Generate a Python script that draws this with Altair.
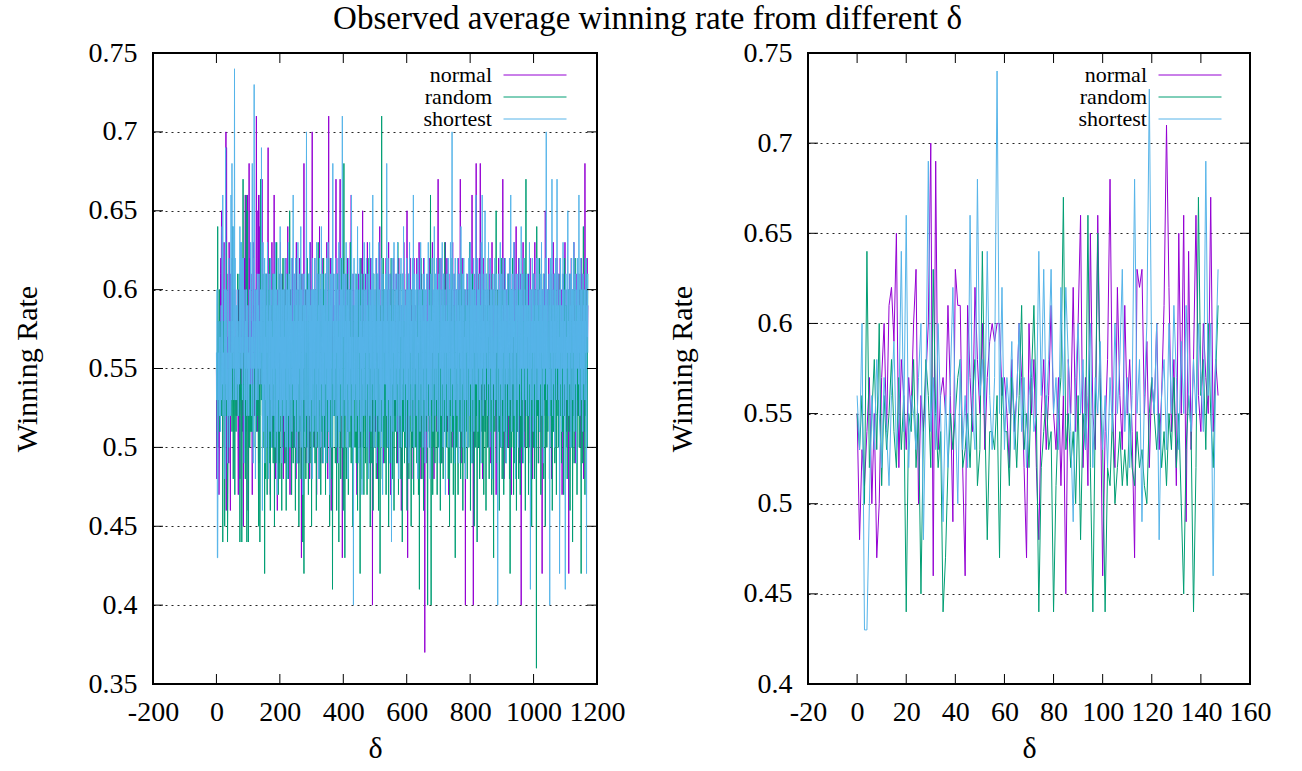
import altair as alt
import pandas as pd

# ---------------- data (winning rate in %, index = delta) ----------------
series_names = ["normal", "random", "shortest"]
series_colors = ["#9400d3", "#009e73", "#56b4e9"]

normal_head = [
    55, 48, 53, 51, 54, 57, 50, 55, 47, 50, 57, 60, 54, 61, 62, 59, 65, 52, 58, 56,
    53, 57, 55, 60, 63, 50, 56, 54, 57, 60, 70, 46, 69, 53, 56, 57, 55, 61, 56, 49,
    63, 61, 61, 52, 46, 61, 57, 54, 62, 58, 55, 60, 53, 57, 59, 60, 59, 60, 60, 56,
    57, 55, 52, 58, 54, 56, 60, 57, 52, 47, 60, 55, 58, 52, 48, 55, 58, 53, 56, 61,
    55, 53, 57, 51, 56, 45, 58, 55, 62, 54, 60, 66, 52, 57, 51, 65, 55, 53, 66, 57,
    46, 54, 58, 68, 55, 52, 62, 56, 53, 61, 55, 58, 54, 47, 63, 62, 63, 55, 59, 52,
    57, 55, 60, 53, 56, 61, 71, 62, 54, 58, 51, 65, 55, 66, 49, 64, 53, 58, 66, 56,
    54, 60, 57, 55, 67, 54, 58, 56,
]
random_head = [
    55, 53, 56, 50, 64, 52, 55, 58, 53, 60, 51, 56, 53, 55, 58, 54, 52, 57, 53, 56,
    44, 55, 54, 58, 52, 55, 45, 54, 58, 56, 52, 63, 55, 52, 54, 44, 47, 52, 55, 53,
    55, 57, 58, 52, 53, 55, 52, 56, 58, 51, 53, 64, 55, 48, 54, 54, 53, 56, 47, 57,
    54, 54, 51, 57, 55, 52, 56, 61, 53, 55, 52, 57, 61, 55, 44, 52, 54, 56, 53, 54,
    44, 51, 55, 57, 67, 53, 55, 52, 54, 50, 56, 48, 55, 53, 66, 52, 44, 55, 65, 56,
    53, 44, 52, 51, 55, 50, 52, 54, 51, 53, 51, 55, 52, 51, 54, 52, 53, 51, 50, 55,
    57, 55, 53, 55, 52, 54, 51, 55, 53, 57, 52, 55, 50, 45, 53, 56, 54, 44, 52, 67,
    56, 58, 53, 60, 55, 52, 57, 61,
]
shortest_head = [
    56, 53, 60, 43, 43, 50, 56, 53, 58, 55, 52, 57, 54, 51, 56, 59, 53, 55, 64, 54,
    66, 52, 56, 55, 53, 57, 60, 48, 56, 69, 54, 57, 53, 60, 55, 49, 56, 52, 57, 62,
    55, 50, 58, 53, 56, 52, 66, 55, 53, 68, 56, 58, 55, 64, 56, 53, 57, 74, 55, 62,
    53, 57, 55, 59, 53, 56, 60, 54, 57, 52, 56, 58, 54, 55, 64, 56, 63, 55, 58, 63,
    55, 57, 53, 62, 56, 62, 58, 54, 49, 57, 60, 55, 58, 53, 56, 60, 52, 57, 55, 59,
    53, 56, 52, 57, 54, 60, 55, 58, 63, 54, 57, 52, 56, 68, 55, 58, 49, 56, 60, 73,
    57, 55, 60, 48, 56, 58, 53, 60, 55, 61, 57, 53, 59, 55, 61, 56, 54, 58, 55, 60,
    57, 54, 69, 56, 60, 46, 58, 63,
]

normal_tail = [
    55, 58, 52, 57, 60, 54, 49, 56, 61, 53, 57, 50, 59, 55, 62, 69, 52, 56, 58, 51, 55, 60, 47, 57, 54, 59, 52, 63, 56, 50, 58, 55,
    53, 57, 66, 51, 55, 59, 48, 56, 62, 54, 58, 52, 46, 57, 60, 55, 53, 61, 49, 56, 58, 54, 63, 52, 57, 50, 59, 55, 61, 53, 56, 48,
    57, 52, 60, 55, 49, 58, 54, 62, 51, 56, 59, 53, 57, 64, 50, 55, 58, 52, 61, 54, 47, 57, 60, 53, 56, 51, 59, 55, 62, 50, 54, 58,
    55, 61, 50, 56, 59, 52, 57, 48, 63, 54, 58, 51, 56, 60, 53, 57, 49, 55, 62, 52, 58, 54, 60, 56, 43, 57, 61, 53, 55, 59, 50, 56,
    68, 53, 57, 51, 60, 55, 49, 58, 54, 62, 50, 56, 59, 53, 57, 61, 52, 55, 48, 58, 63, 54, 57, 51, 56, 59, 70, 53, 56, 60, 52, 55,
    57, 50, 62, 54, 58, 52, 56, 60, 47, 55, 59, 53, 61, 56, 51, 57, 54, 64, 52, 58, 55, 49, 60, 56, 53, 59, 51, 57, 62, 54, 56, 50,
    54, 59, 52, 56, 61, 50, 57, 55, 63, 53, 58, 48, 56, 60, 71, 52, 57, 54, 59, 51, 62, 55, 46, 58, 53, 60, 56, 52, 57, 61, 54, 58,
    56, 52, 59, 54, 58, 67, 51, 55, 60, 53, 57, 49, 62, 55, 58, 52, 56, 61, 67, 54, 50, 57, 59, 53, 56, 43, 58, 62, 55, 51, 57, 60,
    55, 59, 52, 57, 61, 54, 48, 58, 56, 62, 51, 55, 59, 53, 57, 60, 52, 56, 63, 54, 58, 66, 50, 56, 53, 59, 55, 61, 52, 57, 54, 58,
    53, 57, 60, 51, 56, 59, 54, 47, 58, 62, 55, 52, 57, 61, 53, 59, 56, 50, 58, 54, 62, 56, 52, 57, 55, 65, 53, 58, 51, 60, 56, 54,
    58, 52, 56, 61, 54, 59, 50, 57, 63, 55, 52, 58, 60, 53, 56, 49, 59, 55, 62, 51, 57, 54, 60, 56, 40, 58, 53, 61, 55, 50, 57, 59,
    54, 60, 51, 57, 55, 62, 53, 58, 48, 56, 61, 54, 59, 52, 57, 64, 55, 50, 58, 53, 60, 56, 52, 59, 54, 57, 61, 49, 56, 58, 53, 60,
    56, 53, 59, 62, 50, 57, 54, 60, 55, 51, 58, 63, 53, 56, 59, 52, 57, 47, 61, 55, 58, 53, 56, 60, 51, 57, 54, 62, 52, 58, 55, 59,
    52, 58, 55, 61, 53, 57, 60, 49, 56, 59, 54, 62, 57, 51, 58, 55, 60, 53, 56, 46, 59, 57, 52, 61, 55, 58, 53, 63, 56, 50, 57, 54,
    58, 54, 60, 52, 57, 65, 55, 43, 59, 53, 61, 56, 50, 58, 54, 62, 57, 52, 59, 55, 48, 60, 56, 53, 58, 51, 57, 62, 54, 59, 52, 56,
    55, 59, 53, 57, 62, 50, 56, 60, 54, 58, 51, 63, 55, 57, 52, 59, 56, 48, 61, 54, 58, 53, 57, 60, 51, 56, 62, 55, 59, 37, 57, 53,
    57, 52, 60, 55, 49, 58, 54, 61, 56, 53, 59, 51, 57, 62, 55, 50, 58, 54, 60, 53, 56, 63, 52, 57, 59, 54, 48, 58, 61, 55, 52, 57,
    54, 59, 56, 51, 58, 53, 60, 67, 55, 52, 57, 61, 50, 56, 59, 54, 62, 53, 57, 49, 58, 55, 60, 52, 56, 61, 54, 58, 51, 57, 63, 55,
    58, 53, 56, 62, 51, 57, 55, 60, 47, 59, 54, 57, 52, 61, 56, 53, 58, 60, 55, 50, 57, 63, 54, 59, 52, 56, 61, 55, 58, 53, 57, 54,
    56, 60, 52, 57, 54, 59, 62, 50, 55, 58, 53, 61, 56, 67, 52, 57, 55, 60, 49, 58, 54, 62, 56, 51, 59, 55, 57, 53, 60, 40, 58, 54,
    53, 58, 61, 55, 50, 57, 60, 54, 59, 52, 56, 63, 55, 58, 51, 57, 60, 53, 66, 56, 52, 59, 40, 57, 61, 54, 58, 50, 56, 60, 55, 68,
    57, 52, 59, 55, 61, 53, 56, 50, 58, 62, 54, 57, 68, 51, 56, 59, 53, 60, 55, 48, 58, 62, 54, 57, 52, 60, 55, 59, 51, 57, 54, 61,
    55, 59, 53, 57, 50, 60, 56, 62, 52, 58, 54, 61, 57, 49, 55, 59, 53, 63, 56, 51, 58, 55, 60, 53, 57, 61, 52, 56, 59, 54, 47, 58,
    60, 54, 57, 52, 59, 55, 62, 51, 56, 58, 53, 61, 57, 50, 55, 60, 54, 58, 52, 67, 56, 53, 59, 48, 57, 62, 55, 51, 58, 54, 60, 56,
    53, 58, 55, 61, 50, 57, 59, 54, 62, 56, 52, 58, 55, 60, 47, 57, 53, 61, 56, 59, 51, 55, 58, 63, 54, 57, 52, 60, 56, 64, 53, 58,
    56, 51, 60, 54, 58, 62, 53, 57, 49, 59, 55, 61, 52, 40, 57, 55, 60, 53, 58, 63, 51, 56, 59, 54, 57, 50, 61, 55, 58, 53, 56, 60,
    54, 58, 52, 57, 61, 55, 50, 59, 53, 62, 56, 58, 51, 57, 54, 60, 55, 48, 59, 53, 61, 56, 52, 58, 63, 55, 57, 50, 60, 54, 56, 59,
    57, 53, 60, 55, 49, 58, 62, 54, 56, 51, 59, 57, 53, 61, 55, 42, 58, 60, 54, 57, 52, 59, 56, 61, 53, 65, 57, 50, 58, 55, 60, 53,
    55, 60, 52, 57, 62, 54, 58, 50, 56, 59, 53, 61, 57, 48, 55, 60, 52, 58, 63, 54, 57, 51, 59, 56, 53, 61, 55, 58, 50, 57, 62, 54,
    58, 53, 56, 61, 55, 50, 59, 54, 62, 57, 52, 58, 55, 60, 47, 56, 59, 53, 61, 55, 58, 52, 57, 63, 54, 56, 60, 51, 58, 55, 53, 59,
    56, 60, 54, 42, 58, 53, 61, 56, 51, 59, 55, 62, 53, 57, 50, 58, 60, 54, 56, 63, 52, 57, 55, 59, 49, 58, 61, 54, 57, 52, 60, 55,
    53, 58, 61, 55, 57, 52, 60, 54, 59, 50, 56, 62, 55, 58, 53, 57, 61, 54, 48, 59, 56, 52, 68, 57, 54, 60, 55, 51, 58, 62, 56, 59,
]
random_tail = [
    53, 57, 50, 56, 42, 55, 59, 48, 54, 61, 52, 56, 47, 58, 53, 60, 51, 55, 49, 57, 62, 53, 46, 56, 59, 52, 55, 50, 58, 54, 61, 49,
    56, 51, 58, 45, 54, 60, 52, 57, 49, 55, 63, 50, 56, 53, 59, 47, 55, 61, 52, 54, 48, 57, 53, 60, 51, 56, 46, 58, 54, 50, 62, 55,
    52, 58, 54, 49, 60, 55, 51, 57, 46, 56, 53, 61, 50, 55, 58, 48, 54, 59, 52, 65, 55, 50, 57, 53, 60, 47, 56, 52, 58, 54, 49, 57,
    55, 50, 59, 53, 57, 46, 62, 54, 51, 56, 58, 49, 55, 60, 52, 57, 45, 54, 59, 51, 56, 53, 61, 48, 55, 58, 52, 56, 44, 59, 54, 50,
    42, 56, 53, 60, 51, 55, 48, 58, 54, 50, 57, 62, 52, 55, 47, 59, 53, 56, 61, 49, 54, 58, 51, 57, 45, 55, 60, 52, 56, 50, 58, 53,
    57, 51, 55, 49, 60, 54, 58, 46, 56, 52, 59, 55, 50, 63, 53, 57, 48, 55, 61, 52, 56, 47, 58, 54, 51, 60, 55, 49, 57, 53, 62, 54,
    50, 56, 53, 59, 47, 55, 61, 52, 57, 54, 49, 58, 53, 56, 62, 51, 55, 45, 59, 54, 50, 57, 53, 60, 48, 56, 41, 55, 58, 52, 57, 54,
    58, 52, 55, 49, 60, 54, 57, 46, 56, 53, 61, 50, 55, 58, 44, 57, 53, 59, 51, 56, 48, 55, 62, 53, 57, 50, 58, 54, 46, 56, 68, 53,
    55, 43, 57, 52, 59, 54, 48, 56, 61, 51, 55, 58, 47, 54, 60, 52, 57, 50, 56, 63, 53, 49, 58, 55, 51, 57, 45, 59, 53, 56, 50, 58,
    53, 57, 50, 55, 61, 49, 56, 52, 58, 46, 55, 60, 53, 57, 51, 59, 54, 42, 56, 62, 52, 55, 48, 58, 53, 57, 50, 61, 54, 47, 56, 52,
    58, 54, 49, 56, 52, 60, 55, 47, 57, 53, 59, 50, 56, 62, 51, 55, 58, 45, 54, 57, 52, 60, 49, 56, 53, 58, 46, 55, 61, 52, 57, 50,
    54, 59, 52, 56, 48, 57, 61, 53, 55, 50, 58, 46, 56, 60, 52, 55, 42, 57, 53, 59, 51, 71, 54, 48, 57, 55, 62, 50, 56, 53, 59, 49,
    56, 52, 58, 47, 55, 61, 53, 57, 50, 54, 59, 45, 56, 52, 60, 55, 49, 57, 53, 62, 51, 56, 58, 48, 54, 57, 52, 60, 46, 55, 59, 53,
    51, 57, 54, 60, 49, 55, 58, 52, 63, 56, 47, 54, 59, 53, 57, 50, 55, 61, 48, 56, 52, 58, 44, 57, 54, 60, 51, 55, 58, 49, 56, 53,
    57, 50, 55, 61, 53, 46, 58, 54, 52, 59, 56, 48, 55, 62, 51, 57, 53, 60, 45, 56, 54, 58, 50, 55, 61, 52, 47, 57, 53, 59, 55, 50,
    54, 58, 52, 56, 49, 60, 55, 51, 57, 47, 59, 53, 41, 56, 58, 50, 55, 62, 52, 57, 48, 54, 60, 53, 56, 46, 58, 51, 55, 59, 52, 57,
    55, 51, 58, 53, 57, 48, 40, 56, 52, 59, 54, 60, 50, 55, 57, 66, 53, 40, 56, 61, 52, 55, 47, 58, 53, 57, 50, 62, 54, 49, 56, 53,
    58, 52, 55, 60, 47, 56, 53, 59, 50, 57, 54, 62, 51, 55, 46, 58, 53, 57, 49, 56, 60, 52, 55, 48, 59, 54, 57, 51, 63, 55, 50, 56,
    53, 57, 50, 55, 59, 52, 61, 48, 56, 54, 58, 45, 55, 60, 52, 57, 49, 56, 53, 62, 51, 55, 58, 47, 56, 53, 59, 50, 55, 43, 57, 54,
    56, 50, 58, 54, 61, 52, 47, 57, 55, 60, 51, 56, 53, 59, 48, 55, 62, 53, 57, 50, 56, 46, 58, 54, 52, 60, 55, 49, 57, 53, 59, 51,
    55, 59, 53, 48, 57, 52, 60, 55, 50, 56, 63, 53, 57, 46, 55, 59, 51, 56, 54, 61, 49, 55, 58, 52, 57, 45, 56, 60, 53, 55, 50, 58,
    52, 57, 44, 56, 60, 53, 58, 50, 55, 61, 48, 56, 53, 59, 51, 57, 54, 62, 49, 55, 58, 52, 56, 47, 60, 54, 57, 51, 55, 59, 46, 56,
    57, 53, 59, 50, 55, 62, 52, 56, 48, 58, 54, 60, 51, 56, 53, 57, 47, 55, 61, 52, 56, 50, 43, 57, 54, 59, 51, 56, 53, 58, 65, 52,
    55, 49, 57, 53, 60, 54, 51, 58, 46, 56, 53, 59, 55, 50, 62, 54, 57, 48, 55, 60, 52, 56, 47, 58, 53, 57, 51, 61, 54, 49, 56, 53,
    58, 54, 50, 57, 55, 61, 52, 56, 48, 59, 42, 55, 57, 53, 60, 50, 56, 54, 62, 51, 55, 47, 58, 53, 57, 49, 56, 60, 52, 55, 46, 57,
    53, 57, 51, 55, 60, 48, 56, 52, 58, 54, 47, 59, 55, 50, 57, 53, 61, 49, 56, 54, 58, 51, 55, 62, 53, 57, 46, 56, 67, 52, 55, 59,
    50, 56, 53, 59, 47, 55, 58, 52, 60, 54, 49, 57, 53, 56, 45, 58, 52, 55, 61, 50, 56, 53, 59, 48, 55, 57, 51, 60, 54, 36, 64, 55,
    52, 57, 54, 49, 59, 55, 51, 62, 56, 53, 58, 47, 55, 60, 52, 57, 50, 56, 54, 61, 48, 55, 58, 53, 57, 45, 56, 59, 52, 55, 50, 57,
    55, 51, 58, 53, 56, 60, 48, 55, 57, 52, 62, 54, 50, 56, 59, 46, 55, 53, 58, 51, 57, 54, 61, 49, 56, 53, 59, 55, 47, 57, 52, 60,
    54, 57, 50, 56, 53, 59, 45, 55, 61, 52, 57, 54, 49, 58, 55, 51, 60, 53, 56, 47, 58, 54, 62, 52, 55, 57, 50, 59, 53, 56, 48, 55,
    57, 52, 56, 60, 51, 55, 58, 46, 54, 59, 53, 61, 50, 56, 57, 44, 55, 60, 52, 58, 49, 56, 53, 62, 55, 51, 57, 54, 59, 47, 56, 53,
    55, 59, 52, 56, 50, 58, 54, 61, 53, 57, 42, 55, 60, 52, 57, 49, 56, 64, 53, 58, 51, 55, 47, 59, 54, 62, 52, 56, 58, 50, 57, 61,
]
shortest_tail = [
    58, 51, 60, 54, 62, 49, 57, 53, 61, 55, 50, 59, 56, 63, 52, 58, 48, 57, 61, 54, 59, 51, 56, 62, 53, 58, 50, 60, 55, 57, 52, 61,
    54, 59, 52, 61, 56, 50, 63, 55, 58, 51, 60, 57, 47, 59, 54, 62, 53, 58, 51, 60, 56, 64, 52, 57, 55, 61, 49, 58, 53, 60, 56, 52,
    60, 54, 57, 51, 62, 55, 59, 50, 56, 61, 53, 58, 48, 60, 55, 63, 52, 57, 54, 61, 50, 59, 56, 53, 62, 55, 51, 58, 54, 60, 66, 53,
    57, 61, 52, 58, 55, 50, 62, 56, 59, 53, 60, 49, 57, 63, 54, 58, 51, 61, 55, 59, 52, 57, 64, 50, 56, 60, 53, 58, 47, 61, 55, 59,
    53, 58, 61, 55, 50, 59, 56, 62, 70, 52, 57, 60, 54, 49, 58, 61, 55, 52, 63, 57, 51, 59, 55, 60, 53, 58, 48, 62, 56, 54, 60, 51,
    59, 55, 62, 52, 57, 60, 50, 56, 63, 54, 58, 51, 61, 55, 59, 48, 57, 62, 53, 60, 56, 50, 58, 64, 54, 57, 52, 61, 55, 49, 59, 56,
    52, 60, 56, 61, 54, 58, 49, 62, 55, 59, 53, 57, 63, 51, 58, 55, 60, 47, 56, 61, 53, 59, 55, 62, 50, 57, 60, 68, 54, 58, 52, 61,
    57, 53, 59, 55, 62, 50, 58, 56, 61, 52, 60, 54, 57, 49, 63, 55, 59, 51, 58, 62, 54, 57, 60, 52, 56, 71, 55, 50, 59, 57, 61, 53,
    55, 61, 52, 58, 56, 63, 50, 57, 60, 54, 59, 48, 56, 62, 53, 58, 51, 60, 55, 57, 52, 59, 66, 54, 61, 50, 57, 55, 40, 58, 62, 53,
    59, 54, 57, 61, 51, 56, 60, 53, 58, 64, 52, 57, 55, 49, 60, 56, 62, 53, 58, 51, 59, 55, 61, 47, 57, 54, 60, 52, 58, 56, 63, 55,
    52, 58, 56, 60, 53, 62, 50, 57, 59, 54, 61, 55, 48, 58, 56, 63, 52, 59, 55, 60, 51, 57, 62, 54, 58, 66, 53, 56, 61, 50, 59, 55,
    60, 53, 57, 62, 55, 49, 58, 56, 61, 52, 59, 55, 63, 51, 57, 60, 54, 58, 50, 56, 62, 53, 59, 55, 47, 61, 57, 52, 58, 56, 60, 54,
    57, 61, 54, 59, 52, 68, 55, 58, 50, 62, 56, 53, 60, 57, 49, 61, 55, 59, 52, 58, 44, 57, 62, 54, 60, 51, 58, 56, 63, 53, 59, 55,
    53, 58, 61, 55, 60, 51, 57, 63, 54, 59, 56, 48, 61, 55, 58, 52, 60, 57, 62, 50, 56, 59, 54, 61, 53, 58, 64, 55, 57, 51, 60, 56,
    59, 54, 57, 50, 62, 56, 60, 53, 58, 55, 61, 49, 57, 63, 52, 59, 56, 60, 54, 58, 51, 57, 62, 55, 53, 66, 57, 50, 59, 61, 54, 58,
    55, 60, 52, 58, 61, 54, 57, 48, 62, 56, 59, 53, 60, 55, 51, 58, 63, 54, 57, 60, 52, 59, 56, 50, 61, 55, 58, 53, 62, 57, 49, 60,
    56, 52, 59, 61, 55, 58, 50, 57, 63, 54, 60, 56, 52, 59, 48, 57, 61, 55, 58, 53, 62, 56, 59, 51, 57, 60, 54, 64, 55, 58, 52, 61,
    58, 55, 62, 53, 57, 60, 51, 59, 56, 61, 54, 49, 58, 62, 55, 57, 60, 52, 59, 56, 63, 54, 58, 50, 57, 61, 53, 59, 56, 60, 47, 58,
    54, 59, 56, 61, 52, 58, 55, 62, 57, 50, 60, 56, 53, 59, 63, 55, 58, 51, 57, 70, 54, 60, 56, 52, 59, 61, 55, 49, 58, 62, 56, 53,
    60, 55, 58, 52, 62, 57, 54, 59, 49, 61, 56, 58, 53, 60, 55, 64, 51, 57, 59, 54, 61, 56, 50, 58, 62, 55, 57, 53, 60, 48, 58, 56,
    57, 61, 53, 59, 56, 50, 60, 55, 62, 58, 52, 57, 63, 54, 59, 56, 61, 49, 58, 55, 60, 53, 57, 62, 51, 59, 56, 60, 54, 58, 66, 55,
    54, 59, 56, 62, 51, 58, 60, 55, 57, 53, 61, 56, 59, 49, 58, 63, 54, 57, 66, 55, 60, 52, 58, 56, 61, 54, 59, 65, 53, 57, 60, 56,
    61, 55, 58, 52, 60, 57, 63, 54, 59, 56, 50, 58, 62, 55, 57, 60, 53, 59, 48, 57, 61, 56, 54, 60, 58, 52, 62, 55, 59, 53, 57, 61,
    56, 59, 53, 40, 57, 61, 55, 58, 52, 60, 56, 63, 54, 58, 50, 57, 61, 55, 59, 53, 62, 56, 58, 51, 60, 57, 54, 62, 55, 59, 49, 58,
    60, 54, 57, 61, 55, 59, 52, 58, 56, 62, 53, 57, 66, 55, 60, 51, 58, 56, 61, 54, 59, 57, 63, 52, 58, 55, 60, 48, 57, 61, 56, 59,
    53, 58, 61, 56, 50, 59, 55, 62, 57, 54, 60, 52, 58, 64, 55, 57, 61, 53, 59, 56, 49, 58, 62, 55, 60, 57, 53, 59, 56, 61, 52, 58,
    57, 61, 55, 59, 52, 58, 56, 63, 54, 60, 41, 57, 60, 55, 58, 53, 62, 56, 59, 51, 57, 61, 54, 58, 56, 60, 50, 59, 55, 62, 57, 53,
    59, 55, 62, 53, 58, 56, 60, 51, 57, 61, 54, 59, 56, 63, 52, 58, 55, 60, 57, 49, 61, 56, 59, 54, 58, 62, 55, 57, 70, 53, 59, 56,
    54, 60, 57, 52, 58, 61, 55, 40, 59, 56, 62, 53, 58, 55, 67, 57, 52, 60, 56, 59, 54, 61, 50, 58, 56, 62, 55, 59, 53, 57, 67, 55,
    58, 61, 55, 59, 53, 57, 42, 60, 56, 62, 54, 58, 51, 59, 56, 61, 55, 63, 52, 57, 60, 54, 58, 56, 41, 59, 61, 55, 57, 53, 60, 56,
    65, 55, 58, 52, 60, 57, 54, 61, 56, 59, 50, 58, 62, 55, 57, 60, 53, 59, 56, 63, 51, 58, 55, 61, 57, 54, 60, 49, 58, 56, 62, 55,
    57, 61, 54, 66, 56, 59, 52, 58, 55, 62, 57, 53, 60, 56, 58, 51, 61, 55, 59, 54, 57, 60, 53, 58, 56, 62, 55, 42, 59, 57, 61, 56,
]

left_x_ticks = [-200, 0, 200, 400, 600, 800, 1000, 1200]
left_y_ticks = [0.35, 0.4, 0.45, 0.5, 0.55, 0.6, 0.65, 0.7, 0.75]
right_x_ticks = [-20, 0, 20, 40, 60, 80, 100, 120, 140, 160]
right_y_ticks = [0.4, 0.45, 0.5, 0.55, 0.6, 0.65, 0.7, 0.75]

FONT = "Liberation Serif"


def long_table(series_lists):
    rows = []
    for name, vals in zip(series_names, series_lists):
        for i, v in enumerate(vals):
            rows.append({"x": i, "rate": v / 100.0, "series": name})
    return pd.DataFrame(rows)


left_df = long_table([normal_head + normal_tail, random_head + random_tail, shortest_head + shortest_tail])
right_df = long_table([normal_head, random_head, shortest_head])


def panel(df, xdom, xticks, ydom, yticks, w, h):
    xs = alt.Scale(domain=xdom, nice=False, zero=False)
    ys = alt.Scale(domain=ydom, nice=False, zero=False)
    xaxis = alt.Axis(
        values=xticks, title="δ", grid=False, ticks=False, domain=False,
        labelExpr="(datum.value < 0 ? '-' : '') + format(abs(datum.value), 'd')",
        labelFont=FONT, labelFontSize=28, labelColor="black", labelPadding=14,
        labelFlush=False, labelOverlap=False,
        titleFont=FONT, titleFontSize=30, titleFontWeight="normal", titleColor="black",
        titlePadding=7,
    )
    yaxis = alt.Axis(
        values=yticks, title="Winning Rate", grid=True, gridDash=[2, 4], gridColor="black",
        gridOpacity=0.85, gridWidth=1, ticks=False, domain=False,
        labelExpr="format(datum.value, '.2~f')",
        labelFont=FONT, labelFontSize=28, labelColor="black", labelPadding=16,
        labelFlush=False, labelOverlap=False,
        titleFont=FONT, titleFontSize=30, titleFontWeight="normal", titleColor="black",
        titlePadding=46,
    )

    def X():
        return alt.X("x:Q", scale=xs, axis=xaxis)

    def Y():
        return alt.Y("rate:Q", scale=ys, axis=yaxis)

    lines = alt.Chart(df).mark_line(strokeWidth=1).encode(
        x=X(),
        y=Y(),
        color=alt.Color(
            "series:N",
            scale=alt.Scale(domain=series_names, range=series_colors),
            legend=alt.Legend(
                title=None, orient="none", legendX=371, legendY=11,
                symbolType="M-3,0H3", symbolSize=441, symbolStrokeWidth=1,
                labelAlign="right", labelOffset={"expr": "-54"}, labelFont=FONT, labelFontSize=22,
                labelColor="black", rowPadding=0, padding=0,
            ),
        ),
    )
    xt = pd.DataFrame({"x": xticks})
    yt = pd.DataFrame({"rate": yticks})
    tick_style = dict(color="black", strokeWidth=1)
    t_bottom = alt.Chart(xt).mark_rule(**tick_style).encode(x=X(), y=alt.value(h), y2=alt.value(h - 10))
    t_top = alt.Chart(xt).mark_rule(**tick_style).encode(x=X(), y=alt.value(0), y2=alt.value(10))
    t_left = alt.Chart(yt).mark_rule(**tick_style).encode(y=Y(), x=alt.value(0), x2=alt.value(10))
    t_right = alt.Chart(yt).mark_rule(**tick_style).encode(y=Y(), x=alt.value(w), x2=alt.value(w - 10))
    return alt.layer(lines, t_bottom, t_top, t_left, t_right).properties(width=w, height=h)


left = panel(left_df, [-200, 1200], left_x_ticks, [0.35, 0.75], left_y_ticks, 444, 631)
right = panel(right_df, [-20, 160], right_x_ticks, [0.4, 0.75], right_y_ticks, 442, 631)

chart = (
    alt.hconcat(left, right, spacing=211, bounds="flush")
    .resolve_scale(color="independent")
    .resolve_legend(color="independent")
    .properties(
        title=alt.TitleParams(
            "Observed average winning rate from different δ",
            font=FONT, fontSize=33, fontWeight="normal", color="black",
            anchor="middle", offset=2, dx=6,
        ),
        padding={"left": 11, "top": 3, "right": 5, "bottom": 5},
    )
    .configure_view(stroke="black", strokeWidth=2)
)

chart.save("out.html", embed_options={"renderer": "svg", "actions": False})
